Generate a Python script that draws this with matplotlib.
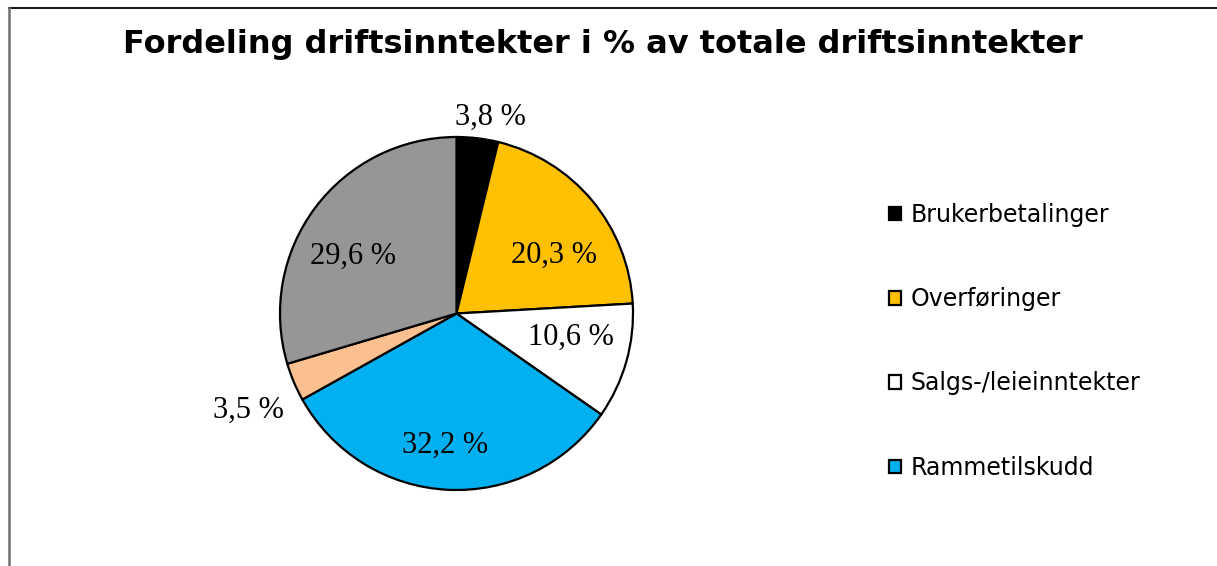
import matplotlib
matplotlib.use("Agg")
import matplotlib.pyplot as plt
from matplotlib.lines import Line2D
import numpy as np

categories = ["Brukerbetalinger", "Overføringer", "Salgs-/leieinntekter",
              "Rammetilskudd", "Andre", "Øvrige"]
shares = [3.8, 20.3, 10.6, 32.2, 3.5, 29.6]
label_texts = ["3,8 %", "20,3 %", "10,6 %", "32,2 %", "3,5 %", "29,6 %"]
colors = ["#000000", "#FFC000", "#FFFFFF", "#00B0F0", "#FAC090", "#969696"]
# radial distance of each data label (fraction of radius), like Excel's best fit
label_dist = [1.13, 0.64, 0.66, 0.75, 1.30, 0.67]
label_shift = [3, 9, -4, 2, -2, -8]  # degrees, clockwise

W, H = 1217, 566
fig = plt.figure(figsize=(W / 100, H / 100), dpi=100)
fig.patch.set_facecolor("white")

# frame (only top and left edges visible in the crop)
fig.add_artist(Line2D([9 / W, 1], [1 - 8 / H, 1 - 8 / H], color="#1a1a1a", lw=1.5))
fig.add_artist(Line2D([9 / W, 9 / W], [0, 1 - 8 / H], color="#707070", lw=1.8))

fig.text(603 / W, 1 - 45 / H, "Fordeling driftsinntekter i % av totale driftsinntekter",
         ha="center", va="center", fontsize=23, fontweight="bold", family="DejaVu Sans")

cx, cy, R = 456.5, 313.5, 176.5
ax = fig.add_axes([(cx - R) / W, (H - cy - R) / H, 2 * R / W, 2 * R / H])
wedges, _ = ax.pie(shares, colors=colors, startangle=90, counterclock=False, radius=1,
                   wedgeprops=dict(edgecolor="black", linewidth=1.6))
ax.set_xlim(-1, 1)
ax.set_ylim(-1, 1)
ax.set_aspect("equal")
ax.axis("off")

for w, txt, d, s in zip(wedges, label_texts, label_dist, label_shift):
    mid = np.deg2rad((w.theta1 + w.theta2) / 2 - s)
    ax.text(d * np.cos(mid), d * np.sin(mid), txt, ha="center", va="center",
            fontsize=22, family="Liberation Serif", clip_on=False)

fig.legend(wedges[:4], categories[:4], loc="upper left",
           bbox_to_anchor=(889 / W, 1 - 203 / H), frameon=False, fontsize=17,
           handlelength=0.5, handleheight=0.5, handletextpad=0.4, labelspacing=2.55,
           borderpad=0, borderaxespad=0)

fig.savefig("out.png", dpi=100, facecolor="white")
